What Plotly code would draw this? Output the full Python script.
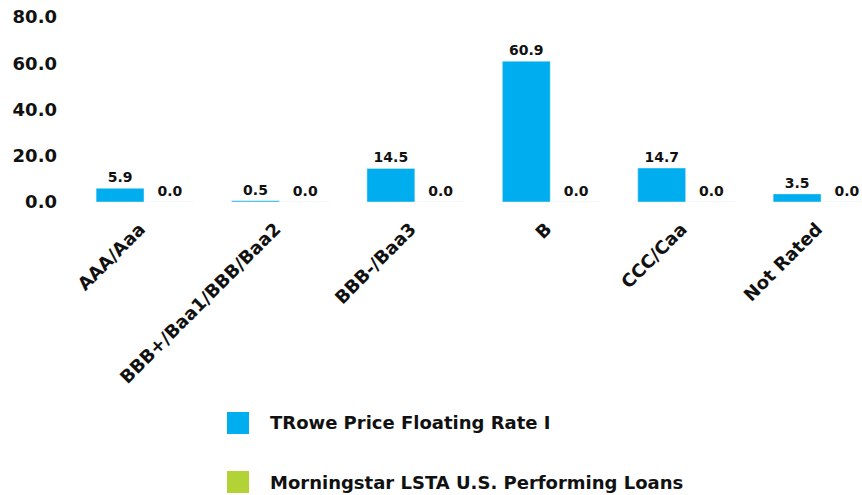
import plotly.graph_objects as go

categories = ["AAA/Aaa", "BBB+/Baa1/BBB/Baa2", "BBB-/Baa3", "B", "CCC/Caa", "Not Rated"]
series_names = ["TRowe Price Floating Rate I", "Morningstar LSTA U.S. Performing Loans"]
trowe_values = [5.9, 0.5, 14.5, 60.9, 14.7, 3.5]
lsta_values = [0.0, 0.0, 0.0, 0.0, 0.0, 0.0]
y_ticks = [0, 20, 40, 60, 80]

colors = ["#00AEEF", "#B3D235"]
FONT = "DejaVu Sans"
TXT = "#111111"

# plot area in pixels: x 70..862, y 17..202
PL, PR, PT, PB = 70, 862, 17, 202


def px_x(p):
    return (p - PL) / (PR - PL)


def px_y(p):
    return (PB - p) / (PB - PT)


fig = go.Figure()
for name, vals, col in zip(series_names, [trowe_values, lsta_values], colors):
    fig.add_trace(go.Bar(
        x=categories, y=vals, name=name, marker_color=col,
        texttemplate="%{y:.1f}", textposition="outside", cliponaxis=False,
        textfont=dict(family=FONT, size=14, color=TXT, weight="bold"),
        showlegend=False,
    ))

# manual legend (large square swatches, wide row spacing)
legend_rows_y = [423, 482]
for name, col, yc in zip(series_names, colors, legend_rows_y):
    fig.add_shape(type="rect", xref="paper", yref="paper",
                  x0=px_x(227), x1=px_x(249), y0=px_y(yc + 11), y1=px_y(yc - 11),
                  line_width=0, fillcolor=col)
    fig.add_annotation(xref="paper", yref="paper", x=px_x(268), y=px_y(yc),
                       xanchor="left", yanchor="middle", showarrow=False,
                       text=name, font=dict(family=FONT, size=18, color=TXT, weight="bold"))

fig.update_layout(
    width=862, height=495,
    margin=dict(l=PL, r=862 - PR, t=PT, b=495 - PB, autoexpand=False),
    barmode="group", bargap=0.263, bargroupgap=0.04,
    plot_bgcolor="white", paper_bgcolor="white",
    font=dict(family=FONT, color=TXT),
    xaxis=dict(type="category", range=[-0.554, 5.295], tickangle=-45,
               showgrid=False, showline=False, zeroline=False, ticks="",
               automargin=False,
               tickfont=dict(family=FONT, size=18, color=TXT, weight="bold"),
               ticklabelstandoff=12, ticklabelshift=-5),
    yaxis=dict(range=[0, 80], tickvals=y_ticks, tickformat=".1f",
               showgrid=False, showline=False, zeroline=False, ticks="",
               automargin=False,
               tickfont=dict(family=FONT, size=18, color=TXT, weight="bold"),
               ticklabelstandoff=12),
)

fig.write_html("out.html", config={"displayModeBar": False},
               post_script="document.body.style.margin='0';document.body.style.overflow='hidden';")
